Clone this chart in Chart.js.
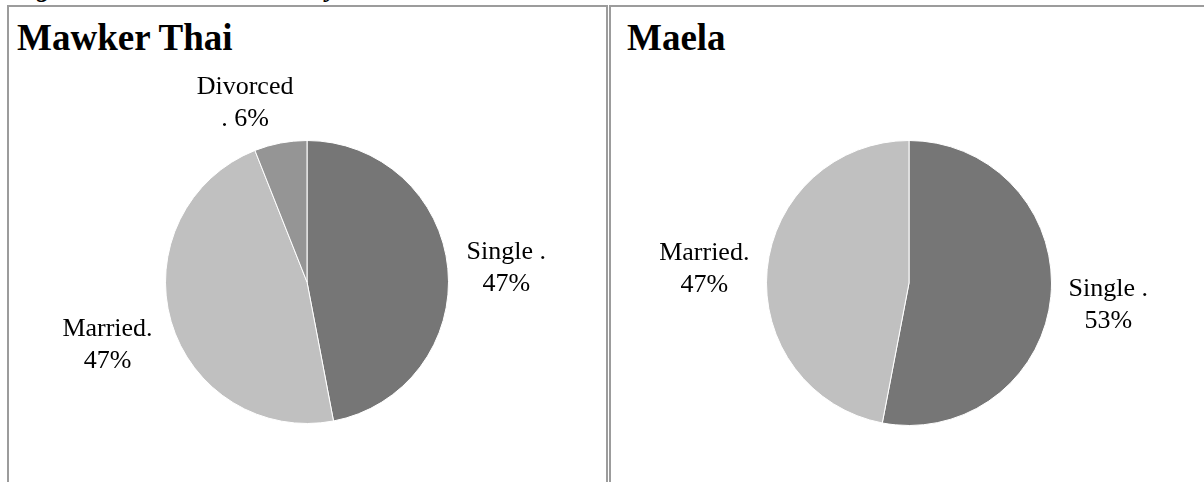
<!DOCTYPE html>
<html>
<head>
<meta charset="utf-8">
<script src="https://cdn.jsdelivr.net/npm/chart.js@4.4.1/dist/chart.umd.min.js"></script>
<style>
  html, body { margin: 0; padding: 0; background: #fff; }
  body { width: 1204px; height: 482px; position: relative; overflow: hidden;
         font-family: "Liberation Serif", "Times New Roman", serif; }
  .caption { position: absolute; left: 13px; top: -26px; font-size: 26px; word-spacing: 4px;
             font-weight: bold; font-style: italic; white-space: nowrap; }
  .panel { position: absolute; top: 5px; height: 500px; border: 2px solid #9c9c9c;
           box-sizing: border-box; }
  .panel h2 { position: absolute; margin: 0; top: 9px; font-size: 37px;
              font-weight: bold; line-height: 1.2; }
  .panel canvas { position: absolute; left: 0; top: 0; }
</style>
</head>
<body>
<div class="caption">Figure 4.2: Marital status by site</div>

<div class="panel" id="panel-mawker" style="left:7px; width:601px;">
  <h2 style="left:8px;">Mawker Thai</h2>
  <canvas id="pie-mawker" width="597" height="496"></canvas>
</div>
<div class="panel" id="panel-maela" style="left:609px; width:600px;">
  <h2 style="left:16px;">Maela</h2>
  <canvas id="pie-maela" width="596" height="496"></canvas>
</div>

<script>
// marital status shares (%) per camp
const mawkerLabels = ['Single', 'Married', 'Divorced'];
const mawkerValues = [47, 47, 6];
const maelaLabels = ['Single', 'Married'];
const maelaValues = [53, 47];

const sliceColours = {
  Single: '#767676',
  Married: '#c0c0c0',
  Divorced: '#959595',
};

// label text per category, two lines like the report ("Single ." / "47%")
const labelLines = {
  Single: (v) => ['Single .', `${v}%`],
  Married: (v) => ['Married.', `${v}%`],
  Divorced: (v) => ['Divorced', `. ${v}%`],
};

// draws the category/percent labels outside each slice
const sliceLabels = {
  id: 'sliceLabels',
  afterDatasetsDraw(chart, args, opts) {
    const { ctx } = chart;
    const meta = chart.getDatasetMeta(0);
    const values = chart.data.datasets[0].data;
    const gap = opts.gap || 18;
    const lineGap = 32;
    ctx.save();
    ctx.font = '26px "Liberation Serif", "Times New Roman", serif';
    ctx.fillStyle = '#000';
    ctx.textAlign = 'center';
    ctx.textBaseline = 'alphabetic';
    meta.data.forEach((arc, i) => {
      const { x, y, startAngle, endAngle, outerRadius } = arc.getProps(
        ['x', 'y', 'startAngle', 'endAngle', 'outerRadius'], true);
      const mid = (startAngle + endAngle) / 2;
      const dx = Math.cos(mid);
      const dy = Math.sin(mid);
      const lines = labelLines[chart.data.labels[i]](values[i]);
      const halfW = Math.max(...lines.map((t) => ctx.measureText(t).width)) / 2;
      const halfH = 24.5;
      const shift = (opts.shift && opts.shift[i]) || [0, 0];
      const cx = x + dx * (outerRadius + gap) + dx * halfW + shift[0];
      const cy = y + dy * (outerRadius + gap) + dy * halfH + shift[1];
      ctx.fillText(lines[0], cx, cy - 7.5);
      ctx.fillText(lines[1], cx, cy - 7.5 + lineGap);
    });
    ctx.restore();
  },
};

function makePie(canvasId, labels, values, padding, shift) {
  return new Chart(document.getElementById(canvasId), {
    type: 'pie',
    data: {
      labels,
      datasets: [{
        data: values,
        backgroundColor: labels.map((l) => sliceColours[l]),
        borderColor: '#ffffff',
        borderWidth: 1,
        hoverOffset: 0,
      }],
    },
    options: {
      responsive: false,
      animation: false,
      layout: { padding },
      plugins: {
        legend: { display: false },
        tooltip: { enabled: false },
        sliceLabels: { gap: 18, shift },
      },
    },
    plugins: [sliceLabels],
  });
}

makePie('pie-mawker', mawkerLabels, mawkerValues,
  { left: 156, right: 157, top: 133, bottom: 79 },
  [[1, 2], [-3, 10], [-23, 0]]);
makePie('pie-maela', maelaLabels, maelaValues,
  { left: 155, right: 155, top: 133, bottom: 77 },
  [[0, 3], [0, 2]]);
</script>
</body>
</html>
